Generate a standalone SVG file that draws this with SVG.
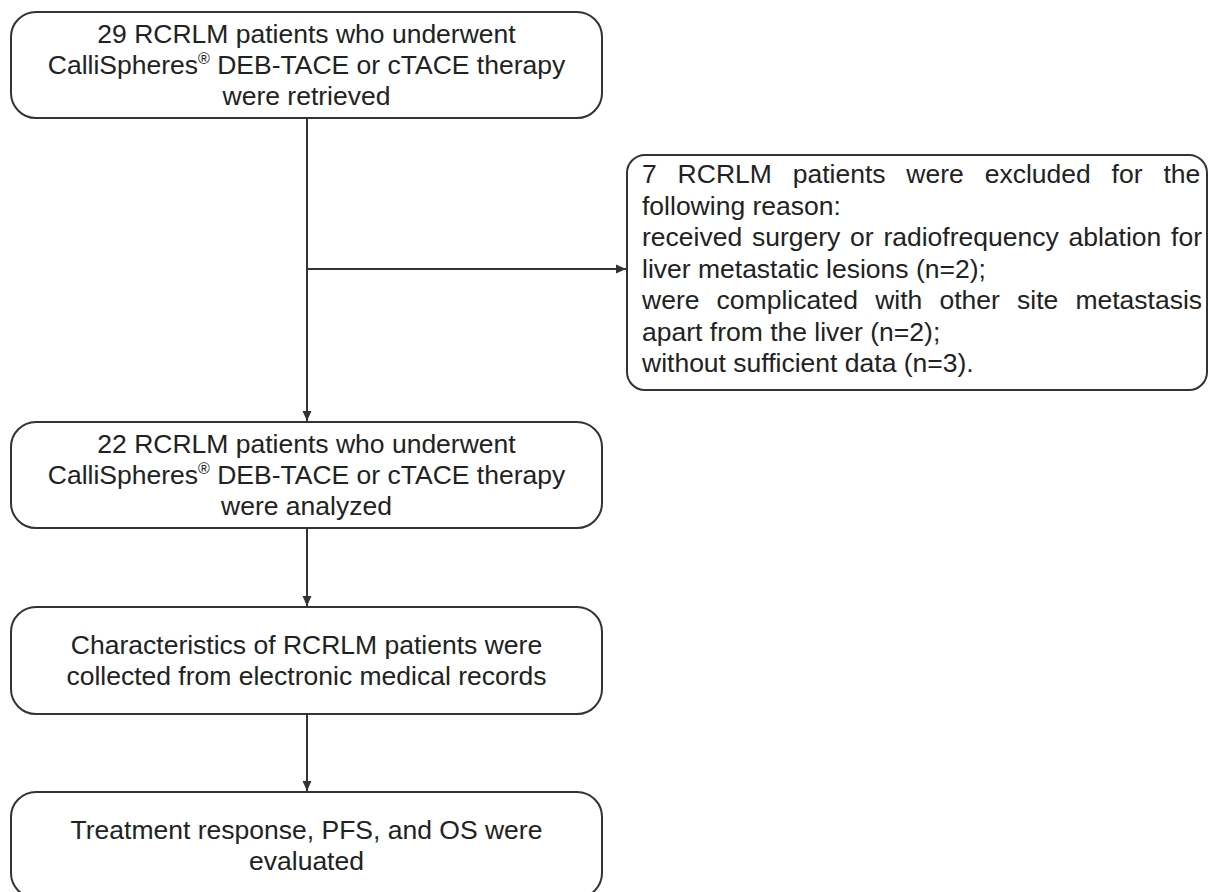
<svg xmlns="http://www.w3.org/2000/svg" width="1208" height="892" viewBox="0 0 1208 892">
<defs>
<marker id="ah" viewBox="0 0 10 10" refX="10" refY="5" markerWidth="10" markerHeight="10" markerUnits="userSpaceOnUse" orient="auto">
<path d="M0,0.5 L10,5 L0,9.5 Z" fill="#333"/>
</marker>
<style>
.box{fill:#fff;stroke:#333;stroke-width:2}
.t{font-family:"Liberation Sans",Arial,sans-serif;font-size:26.5px;fill:#222}
.c{text-anchor:middle}
.sup{font-size:16px}
.line{stroke:#333;stroke-width:2;fill:none}
</style>
</defs>
<rect width="1208" height="892" fill="#fff"/>
<g id="connectors">
<line class="line" x1="307" y1="118" x2="307" y2="421" marker-end="url(#ah)"/>
<line class="line" x1="307" y1="269" x2="626" y2="269" marker-end="url(#ah)"/>
<line class="line" x1="307" y1="528" x2="307" y2="606" marker-end="url(#ah)"/>
<line class="line" x1="307" y1="714" x2="307" y2="791" marker-end="url(#ah)"/>
</g>
<g id="n1">
<rect class="box" x="11" y="12" width="591" height="106" rx="25"/>
<text class="t c" x="306.5" y="43">29 RCRLM patients who underwent</text>
<text class="t c" x="306.5" y="74">CalliSpheres<tspan class="sup" dy="-10">®</tspan><tspan dy="10"> DEB-TACE or cTACE therapy</tspan></text>
<text class="t c" x="306.5" y="105">were retrieved</text>
</g>
<g id="n2">
<rect class="box" x="627" y="155" width="580" height="235" rx="18"/>
<text class="t" x="642" y="183" style="word-spacing:13.5px">7 RCRLM patients were excluded for the</text>
<text class="t" x="642" y="214.5">following reason:</text>
<text class="t" x="642" y="246" style="word-spacing:2.4px">received surgery or radiofrequency ablation for</text>
<text class="t" x="642" y="277.5">liver metastatic lesions (n=2);</text>
<text class="t" x="642" y="309" style="word-spacing:9.8px">were complicated with other site metastasis</text>
<text class="t" x="642" y="340.5">apart from the liver (n=2);</text>
<text class="t" x="642" y="372">without sufficient data (n=3).</text>
</g>
<g id="n3">
<rect class="box" x="11" y="422" width="591" height="106" rx="25"/>
<text class="t c" x="306.5" y="453">22 RCRLM patients who underwent</text>
<text class="t c" x="306.5" y="484">CalliSpheres<tspan class="sup" dy="-10">®</tspan><tspan dy="10"> DEB-TACE or cTACE therapy</tspan></text>
<text class="t c" x="306.5" y="515">were analyzed</text>
</g>
<g id="n4">
<rect class="box" x="11" y="607" width="591" height="107" rx="25"/>
<text class="t c" x="306.5" y="654">Characteristics of RCRLM patients were</text>
<text class="t c" x="306.5" y="685">collected from electronic medical records</text>
</g>
<g id="n5">
<rect class="box" x="11" y="792" width="591" height="106" rx="25"/>
<text class="t c" x="306.5" y="839">Treatment response, PFS, and OS were</text>
<text class="t c" x="306.5" y="870">evaluated</text>
</g>
</svg>
